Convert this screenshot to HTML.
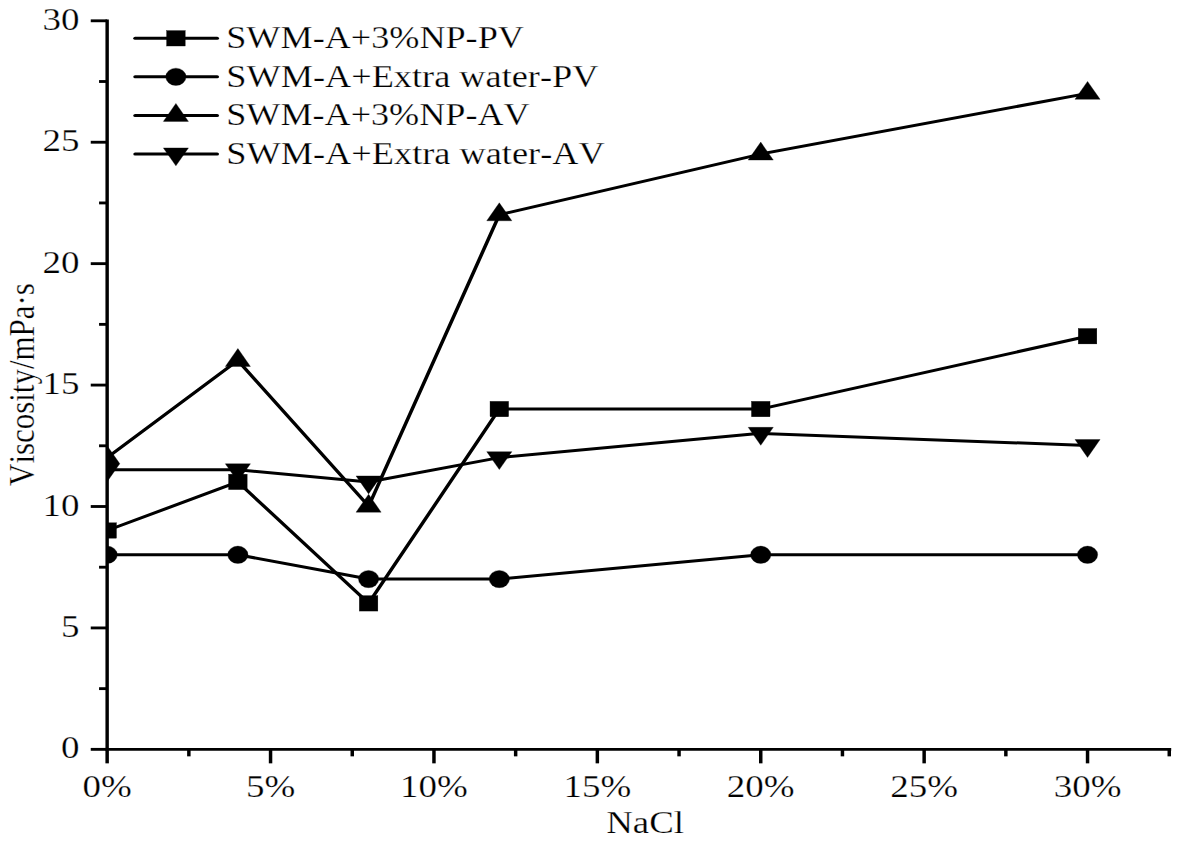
<!DOCTYPE html>
<html><head><meta charset="utf-8"><style>
html,body{margin:0;padding:0;background:#fff;overflow:hidden;}
svg{display:block;}
#w{width:1179px;height:842px;}
text{font-family:"Liberation Serif",serif;fill:#000;font-kerning:none;white-space:pre;stroke:#fff;stroke-width:0.25px;paint-order:fill stroke;}
</style></head><body>
<div id="w"><svg width="1179" height="842" viewBox="0 0 1179 842">
<rect width="1179" height="842" fill="#fff"/>
<g transform="scale(1.2,1)"><defs><clipPath id="pc"><rect x="89.29" y="0" width="893.21" height="842"/></clipPath></defs><g clip-path="url(#pc)"><path d="M89.29 530.49L198.23 481.92L307.16 603.34L416.09 409.06L633.96 409.06L906.29 336.20" fill="none" stroke="#000" stroke-width="3.0" stroke-linejoin="round"/><rect x="81.57" y="522.76" width="15.45" height="15.45" stroke="#000" stroke-width="0.3"/><rect x="190.50" y="474.19" width="15.45" height="15.45" stroke="#000" stroke-width="0.3"/><rect x="299.43" y="595.62" width="15.45" height="15.45" stroke="#000" stroke-width="0.3"/><rect x="408.37" y="401.33" width="15.45" height="15.45" stroke="#000" stroke-width="0.3"/><rect x="626.23" y="401.33" width="15.45" height="15.45" stroke="#000" stroke-width="0.3"/><rect x="898.57" y="328.48" width="15.45" height="15.45" stroke="#000" stroke-width="0.3"/><path d="M89.29 554.77L198.23 554.77L307.16 579.06L416.09 579.06L633.96 554.77L906.29 554.77" fill="none" stroke="#000" stroke-width="3.0" stroke-linejoin="round"/><ellipse cx="89.29" cy="554.77" rx="8.45" ry="8.65" stroke="#000" stroke-width="0.3"/><ellipse cx="198.23" cy="554.77" rx="8.45" ry="8.65" stroke="#000" stroke-width="0.3"/><ellipse cx="307.16" cy="579.06" rx="8.45" ry="8.65" stroke="#000" stroke-width="0.3"/><ellipse cx="416.09" cy="579.06" rx="8.45" ry="8.65" stroke="#000" stroke-width="0.3"/><ellipse cx="633.96" cy="554.77" rx="8.45" ry="8.65" stroke="#000" stroke-width="0.3"/><ellipse cx="906.29" cy="554.77" rx="8.45" ry="8.65" stroke="#000" stroke-width="0.3"/><path d="M89.29 457.63L198.23 360.49L307.16 506.20L416.09 214.78L633.96 154.07L906.29 93.35" fill="none" stroke="#000" stroke-width="3.0" stroke-linejoin="round"/><path d="M89.29 445.66L99.74 463.61L78.84 463.61Z" stroke="#000" stroke-width="0.3"/><path d="M198.23 348.52L208.68 366.47L187.78 366.47Z" stroke="#000" stroke-width="0.3"/><path d="M307.16 494.23L317.61 512.18L296.71 512.18Z" stroke="#000" stroke-width="0.3"/><path d="M416.09 202.81L426.54 220.76L405.64 220.76Z" stroke="#000" stroke-width="0.3"/><path d="M633.96 142.10L644.41 160.05L623.51 160.05Z" stroke="#000" stroke-width="0.3"/><path d="M906.29 81.39L916.74 99.34L895.84 99.34Z" stroke="#000" stroke-width="0.3"/><path d="M89.29 469.77L198.23 469.77L307.16 481.92L416.09 457.63L633.96 433.35L906.29 445.49" fill="none" stroke="#000" stroke-width="3.0" stroke-linejoin="round"/><path d="M89.29 481.74L99.74 463.79L78.84 463.79Z" stroke="#000" stroke-width="0.3"/><path d="M198.23 481.74L208.68 463.79L187.78 463.79Z" stroke="#000" stroke-width="0.3"/><path d="M307.16 493.88L317.61 475.93L296.71 475.93Z" stroke="#000" stroke-width="0.3"/><path d="M416.09 469.60L426.54 451.65L405.64 451.65Z" stroke="#000" stroke-width="0.3"/><path d="M633.96 445.31L644.41 427.36L623.51 427.36Z" stroke="#000" stroke-width="0.3"/><path d="M906.29 457.45L916.74 439.50L895.84 439.50Z" stroke="#000" stroke-width="0.3"/><rect x="89.29" y="463.01" width="10.00" height="1.2"/></g><path d="M89.29 20.80V749.35H974.58" fill="none" stroke="#000" stroke-width="2.85" stroke-linecap="square"/><path d="M75.62 749.35H89.29" stroke="#000" stroke-width="2.85"/><path d="M82.54 688.64H89.29" stroke="#000" stroke-width="2.85"/><path d="M75.62 627.93H89.29" stroke="#000" stroke-width="2.85"/><path d="M82.54 567.21H89.29" stroke="#000" stroke-width="2.85"/><path d="M75.62 506.50H89.29" stroke="#000" stroke-width="2.85"/><path d="M82.54 445.79H89.29" stroke="#000" stroke-width="2.85"/><path d="M75.62 385.08H89.29" stroke="#000" stroke-width="2.85"/><path d="M82.54 324.36H89.29" stroke="#000" stroke-width="2.85"/><path d="M75.62 263.65H89.29" stroke="#000" stroke-width="2.85"/><path d="M82.54 202.94H89.29" stroke="#000" stroke-width="2.85"/><path d="M75.62 142.23H89.29" stroke="#000" stroke-width="2.85"/><path d="M82.54 81.51H89.29" stroke="#000" stroke-width="2.85"/><path d="M75.62 20.80H89.29" stroke="#000" stroke-width="2.85"/><path d="M89.29 749.35V763.35" stroke="#000" stroke-width="2.9"/><path d="M157.38 749.35V756.35" stroke="#000" stroke-width="2.9"/><path d="M225.46 749.35V763.35" stroke="#000" stroke-width="2.9"/><path d="M293.54 749.35V756.35" stroke="#000" stroke-width="2.9"/><path d="M361.63 749.35V763.35" stroke="#000" stroke-width="2.9"/><path d="M429.71 749.35V756.35" stroke="#000" stroke-width="2.9"/><path d="M497.79 749.35V763.35" stroke="#000" stroke-width="2.9"/><path d="M565.88 749.35V756.35" stroke="#000" stroke-width="2.9"/><path d="M633.96 749.35V763.35" stroke="#000" stroke-width="2.9"/><path d="M702.04 749.35V756.35" stroke="#000" stroke-width="2.9"/><path d="M770.12 749.35V763.35" stroke="#000" stroke-width="2.9"/><path d="M838.21 749.35V756.35" stroke="#000" stroke-width="2.9"/><path d="M906.29 749.35V763.35" stroke="#000" stroke-width="2.9"/><path d="M974.38 749.35V756.35" stroke="#000" stroke-width="2.9"/><path d="M112.58 38.30H181.00" stroke="#000" stroke-width="3.0" stroke-linecap="round"/><rect x="138.86" y="30.57" width="15.45" height="15.45" stroke="#000" stroke-width="0.3"/><path d="M112.58 76.80H181.00" stroke="#000" stroke-width="3.0" stroke-linecap="round"/><ellipse cx="146.58" cy="76.80" rx="8.45" ry="8.65" stroke="#000" stroke-width="0.3"/><path d="M112.58 115.40H181.00" stroke="#000" stroke-width="3.0" stroke-linecap="round"/><path d="M146.58 103.43L157.03 121.38L136.13 121.38Z" stroke="#000" stroke-width="0.3"/><path d="M112.58 153.90H181.00" stroke="#000" stroke-width="3.0" stroke-linecap="round"/><path d="M146.58 165.87L157.03 147.92L136.13 147.92Z" stroke="#000" stroke-width="0.3"/></g>
<text x="60.92" y="758.40" font-size="32" textLength="18.48" lengthAdjust="spacingAndGlyphs">0</text><text x="60.92" y="636.98" font-size="32" textLength="18.48" lengthAdjust="spacingAndGlyphs">5</text><text x="42.44" y="515.55" font-size="32" textLength="36.96" lengthAdjust="spacingAndGlyphs">10</text><text x="42.44" y="394.13" font-size="32" textLength="36.96" lengthAdjust="spacingAndGlyphs">15</text><text x="42.44" y="272.70" font-size="32" textLength="36.96" lengthAdjust="spacingAndGlyphs">20</text><text x="42.44" y="151.28" font-size="32" textLength="36.96" lengthAdjust="spacingAndGlyphs">25</text><text x="42.44" y="29.85" font-size="32" textLength="36.96" lengthAdjust="spacingAndGlyphs">30</text><text x="82.52" y="796.80" font-size="32" textLength="49.27" lengthAdjust="spacingAndGlyphs">0%</text><text x="245.92" y="796.80" font-size="32" textLength="49.27" lengthAdjust="spacingAndGlyphs">5%</text><text x="400.08" y="796.80" font-size="32" textLength="67.75" lengthAdjust="spacingAndGlyphs">10%</text><text x="563.48" y="796.80" font-size="32" textLength="67.75" lengthAdjust="spacingAndGlyphs">15%</text><text x="726.88" y="796.80" font-size="32" textLength="67.75" lengthAdjust="spacingAndGlyphs">20%</text><text x="890.28" y="796.80" font-size="32" textLength="67.75" lengthAdjust="spacingAndGlyphs">25%</text><text x="1053.68" y="796.80" font-size="32" textLength="67.75" lengthAdjust="spacingAndGlyphs">30%</text><text x="606.19" y="832.80" font-size="32" textLength="77.75" lengthAdjust="spacingAndGlyphs">NaCl</text><g transform="translate(34.4,485.95) rotate(-90) scale(1,1.167)"><text x="0" y="0" font-size="31" textLength="202.76" lengthAdjust="spacingAndGlyphs">Viscosity/mPa·s</text></g><text x="226.28" y="48.30" font-size="32.5" textLength="297.62" lengthAdjust="spacingAndGlyphs">SWM-A+3%NP-PV</text><text x="226.27" y="86.80" font-size="32.5" textLength="372.13" lengthAdjust="spacingAndGlyphs">SWM-A+Extra water-PV</text><text x="226.28" y="125.40" font-size="32.5" textLength="303.32" lengthAdjust="spacingAndGlyphs">SWM-A+3%NP-AV</text><text x="226.27" y="163.90" font-size="32.5" textLength="378.44" lengthAdjust="spacingAndGlyphs">SWM-A+Extra water-AV</text>
</svg></div>
</body></html>
